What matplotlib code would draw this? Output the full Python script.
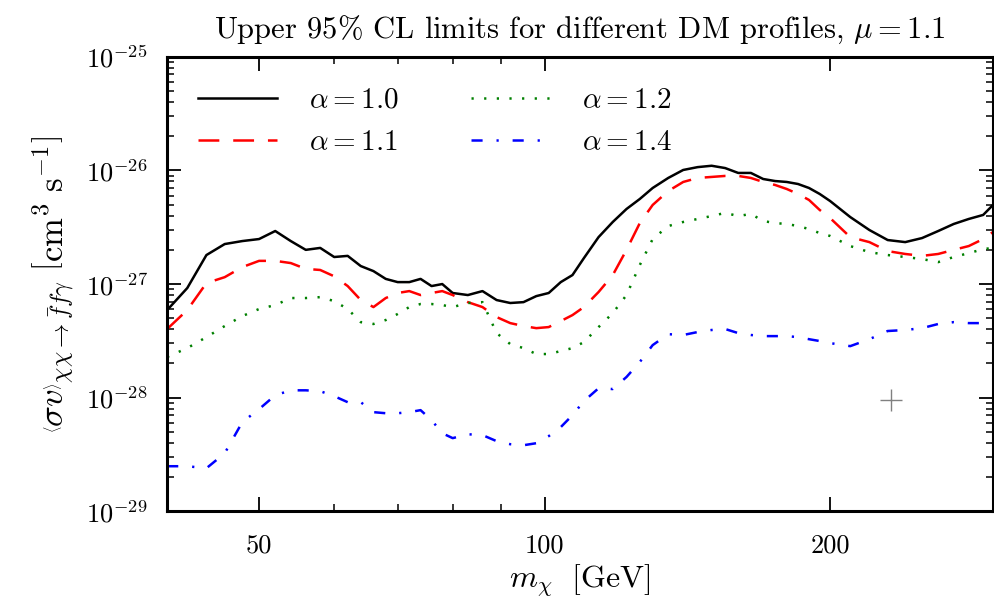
import matplotlib
matplotlib.use("Agg")
import matplotlib.pyplot as plt
from matplotlib.ticker import FixedLocator, LogLocator, NullFormatter, FixedFormatter

plt.rcParams['font.family'] = 'serif'
plt.rcParams['font.serif'] = ['cmr10', 'DejaVu Serif']
plt.rcParams['mathtext.fontset'] = 'cm'
plt.rcParams['axes.formatter.use_mathtext'] = True
plt.rcParams['axes.unicode_minus'] = False
plt.rcParams['lines.scale_dashes'] = False

# ---- data ----
mass = [40, 42, 44, 46, 48, 50, 52, 54, 56, 58, 60, 62, 64, 66, 68, 70, 72, 74, 76, 78,
        80, 83, 86, 89, 92, 95, 98, 101, 104, 107, 110, 114, 118, 122, 126, 130, 135, 140,
        145, 150, 155, 160, 165, 170, 175, 180, 185, 190, 195, 200, 210, 220, 230, 240,
        250, 260, 270, 280, 290, 297]

sigma_a10 = [5.90e-28, 9.22e-28, 1.80e-27, 2.25e-27, 2.39e-27, 2.49e-27, 2.93e-27, 2.39e-27,
             2.00e-27, 2.08e-27, 1.73e-27, 1.77e-27, 1.44e-27, 1.30e-27, 1.11e-27, 1.04e-27,
             1.04e-27, 1.11e-27, 9.60e-28, 1.00e-27, 8.34e-28, 8.00e-28, 8.67e-28, 7.23e-28,
             6.81e-28, 6.93e-28, 7.83e-28, 8.34e-28, 1.04e-27, 1.20e-27, 1.69e-27, 2.59e-27,
             3.52e-27, 4.58e-27, 5.61e-27, 7.01e-27, 8.59e-27, 1.01e-26, 1.07e-26, 1.10e-26,
             1.05e-26, 9.51e-27, 9.51e-27, 8.41e-27, 8.07e-27, 7.92e-27, 7.60e-27, 7.01e-27,
             6.21e-27, 5.38e-27, 3.89e-27, 2.99e-27, 2.44e-27, 2.34e-27, 2.54e-27, 2.93e-27,
             3.38e-27, 3.74e-27, 4.06e-27, 4.97e-27]

sigma_a11 = [4.02e-28, 5.90e-28, 1.02e-27, 1.15e-27, 1.41e-27, 1.60e-27, 1.60e-27, 1.53e-27,
             1.36e-27, 1.33e-27, 1.17e-27, 9.60e-28, 7.23e-28, 6.27e-28, 7.53e-28, 8.34e-28,
             8.67e-28, 8.00e-28, 8.34e-28, 8.67e-28, 8.00e-28, 6.93e-28, 6.27e-28, 5.12e-28,
             4.53e-28, 4.27e-28, 4.09e-28, 4.18e-28, 4.72e-28, 5.33e-28, 6.27e-28, 8.51e-28,
             1.20e-27, 2.00e-27, 3.44e-27, 4.97e-27, 6.59e-27, 7.92e-27, 8.59e-27, 8.77e-27,
             8.95e-27, 8.95e-27, 8.59e-27, 7.92e-27, 7.45e-27, 6.87e-27, 6.21e-27, 5.50e-27,
             4.49e-27, 3.81e-27, 2.59e-27, 2.34e-27, 1.95e-27, 1.84e-27, 1.77e-27, 1.84e-27,
             2.00e-27, 2.16e-27, 2.49e-27, 2.87e-27]

sigma_a12 = [2.28e-28, 2.73e-28, 3.41e-28, 4.27e-28, 5.22e-28, 6.03e-28, 6.53e-28, 7.53e-28,
             7.53e-28, 7.67e-28, 7.08e-28, 6.03e-28, 4.62e-28, 4.45e-28, 4.82e-28, 5.45e-28,
             6.27e-28, 6.67e-28, 6.67e-28, 6.53e-28, 6.27e-28, 6.81e-28, 6.93e-28, 3.70e-28,
             2.96e-28, 2.73e-28, 2.42e-28, 2.42e-28, 2.57e-28, 2.73e-28, 3.08e-28, 4.18e-28,
             5.55e-28, 8.00e-28, 1.47e-27, 2.49e-27, 3.24e-27, 3.52e-27, 3.74e-27, 3.97e-27,
             4.23e-27, 3.97e-27, 4.14e-27, 3.59e-27, 3.44e-27, 3.38e-27, 3.24e-27, 3.05e-27,
             2.81e-27, 2.65e-27, 2.16e-27, 1.91e-27, 1.80e-27, 1.73e-27, 1.66e-27, 1.56e-27,
             1.73e-27, 1.87e-27, 2.03e-27, 2.08e-27]

sigma_a14 = [2.49e-29, 2.49e-29, 2.39e-29, 3.24e-29, 6.08e-29, 7.92e-29, 1.05e-28, 1.16e-28,
             1.16e-28, 1.14e-28, 1.03e-28, 9.12e-29, 9.12e-29, 7.45e-29, 7.29e-29, 7.29e-29,
             7.45e-29, 7.76e-29, 6.34e-29, 4.86e-29, 4.40e-29, 4.76e-29, 4.68e-29, 4.14e-29,
             3.89e-29, 3.81e-29, 3.97e-29, 4.58e-29, 5.50e-29, 7.01e-29, 9.31e-29, 1.21e-28,
             1.19e-28, 1.52e-28, 2.06e-28, 2.90e-28, 3.62e-28, 3.56e-28, 3.78e-28, 3.94e-28,
             4.02e-28, 3.70e-28, 3.56e-28, 3.48e-28, 3.48e-28, 3.48e-28, 3.41e-28, 3.27e-28,
             3.15e-28, 3.02e-28, 2.84e-28, 3.27e-28, 3.86e-28, 3.94e-28, 4.09e-28, 4.45e-28,
             4.62e-28, 4.53e-28, 4.53e-28, 4.53e-28]

labels = [r'$\alpha=1.0$', r'$\alpha=1.1$', r'$\alpha=1.2$', r'$\alpha=1.4$']
marker_point = (232, 9.5e-29)

x_major = [50, 100, 200]
x_major_labels = ['50', '100', '200']
y_major = [1e-29, 1e-28, 1e-27, 1e-26, 1e-25]
title = r'Upper 95% CL limits for different DM profiles, $\mu=1.1$'
xlabel = r'$m_\chi\ \ [\mathrm{GeV}]$'
ylabel = r'$\left\langle\sigma v\right\rangle_{\chi\chi\to\bar{f}f\gamma}\ \left[\mathrm{cm}^3\ \mathrm{s}^{-1}\right]$'

# ---- figure ----
fig = plt.figure(figsize=(9.95, 6.05), dpi=100)
ax = fig.add_axes([0.168, 0.155, 0.830, 0.751])

lw = 1.8
ax.plot(mass, sigma_a10, color='black', lw=lw, label=labels[0])
ax.plot(mass, sigma_a11, color='red', lw=lw, dashes=(15, 10), label=labels[1])
ax.plot(mass, sigma_a12, color='green', lw=lw, dashes=(1.6, 7.5), label=labels[2])
ax.plot(mass, sigma_a14, color='blue', lw=lw, dashes=(8, 10, 1.6, 10), label=labels[3])
ax.plot([marker_point[0]], [marker_point[1]], marker='+', color='gray',
        markersize=16, mew=1.0, linestyle='none')

ax.set_xscale('log')
ax.set_yscale('log')
ax.set_xlim(40, 297)
ax.set_ylim(1e-29, 1e-25)

ax.xaxis.set_major_locator(FixedLocator(x_major))
ax.xaxis.set_major_formatter(FixedFormatter(x_major_labels))
ax.xaxis.set_minor_locator(LogLocator(base=10, subs=[1, 2, 3, 4, 5, 6, 7, 8, 9]))
ax.xaxis.set_minor_formatter(NullFormatter())
ax.yaxis.set_major_locator(FixedLocator(y_major))
ax.yaxis.set_minor_locator(LogLocator(base=10, subs=[2, 3, 4, 5, 6, 7, 8, 9], numticks=20))
ax.yaxis.set_minor_formatter(NullFormatter())

ax.tick_params(which='both', direction='in', top=True, right=True, labelsize=19)
ax.tick_params(axis='x', which='major', pad=16)
ax.tick_params(axis='y', which='major', pad=14)
ax.tick_params(which='major', length=10, width=1.3)
ax.tick_params(which='minor', length=5, width=1.1)
for s in ax.spines.values():
    s.set_linewidth(2.2)

ax.set_title(title, fontsize=22, pad=14)
ax.set_xlabel(xlabel, fontsize=23, labelpad=4)
ax.set_ylabel(ylabel, fontsize=25, labelpad=6)

leg = ax.legend(loc='upper left', ncol=2, frameon=False, fontsize=21,
                handlelength=2.7, handletextpad=1.1, columnspacing=2.5,
                borderaxespad=0.75, labelspacing=0.55, borderpad=0.3)

fig.savefig('out.png', dpi=100)
